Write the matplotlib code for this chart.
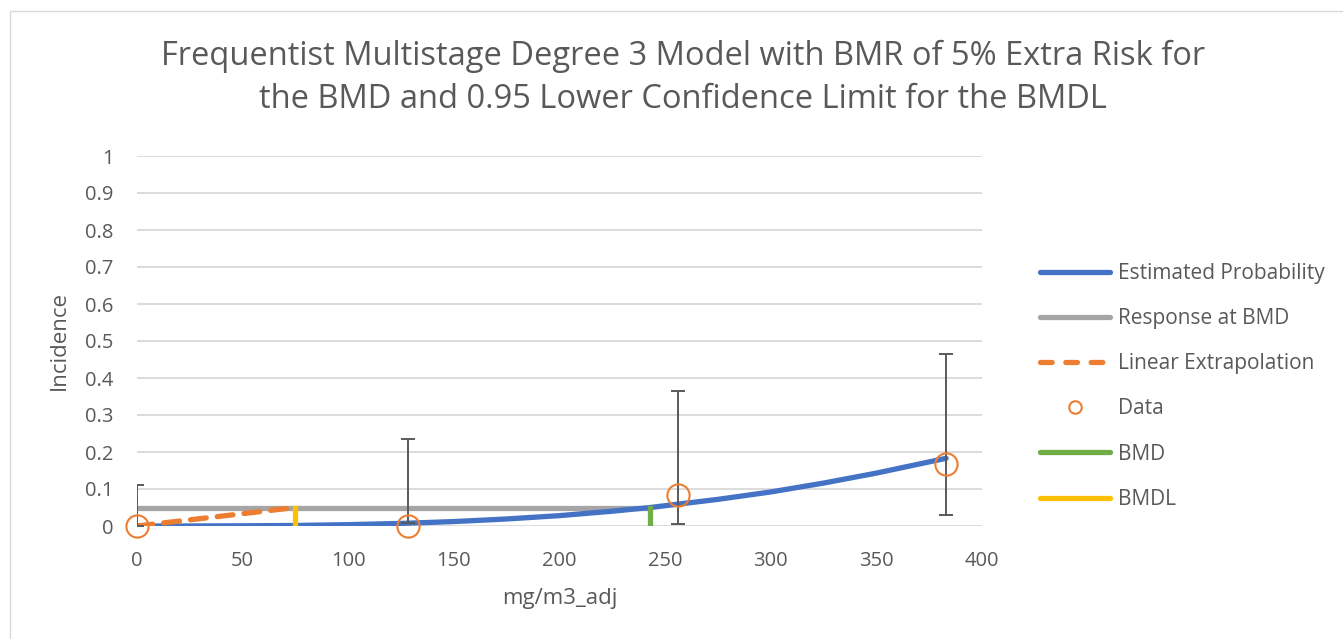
import matplotlib
matplotlib.use("Agg")
import matplotlib.pyplot as plt
from matplotlib.lines import Line2D
from matplotlib.patches import Rectangle

plt.rcParams['font.family'] = ['Open Sans', 'DejaVu Sans']

# Data
dose = [0, 128.5, 256, 383]
incidence = [0.0, 0.0, 0.083, 0.167]
ci_lower = [0.0, 0.007, 0.005, 0.030]
ci_upper = [0.111, 0.235, 0.365, 0.466]

# Estimated probability curve
curve_x = [0, 25, 50, 75, 100, 125, 150, 175, 200, 225, 243, 275, 300, 325, 350, 383]
curve_y = [0.0, 0.0001, 0.0005, 0.0015, 0.0036, 0.007, 0.012, 0.019, 0.028, 0.040,
           0.050, 0.072, 0.092, 0.116, 0.143, 0.183]

bmr = 0.05
bmd = 243
bmdl = 75

title = ("Frequentist Multistage Degree 3 Model with BMR of 5% Extra Risk for\n"
         "the BMD and 0.95 Lower Confidence Limit for the BMDL")

c_blue = '#4472C4'
c_gray = '#A5A5A5'
c_orange = '#ED7D31'
c_green = '#70AD47'
c_yellow = '#FFC000'
c_text = '#595959'
dash = (0, (3.0, 2.1))

fig = plt.figure(figsize=(13.43, 6.39), dpi=100)
fig.patches.append(Rectangle((10/1343, -0.1), 2, 1.1 - 11/639, transform=fig.transFigure,
                             fill=False, edgecolor='#D9D9D9', linewidth=1))
ax = fig.add_axes([137/1343, 1 - 526/639, (982 - 137)/1343, (526 - 156)/639])

ax.plot(curve_x, curve_y, color=c_blue, lw=3.8, solid_capstyle='round', zorder=4)
ax.plot([0, bmd], [bmr, bmr], color=c_gray, lw=3.8, zorder=3)
ax.plot([0, bmdl], [0, bmr], color=c_orange, lw=3.8, ls=dash, dash_capstyle='round', zorder=5)
ci_mid = [(l + u) / 2 for l, u in zip(ci_lower, ci_upper)]
ci_half = [(u - l) / 2 for l, u in zip(ci_lower, ci_upper)]
ax.errorbar(dose, ci_mid, yerr=ci_half,
            fmt='none', ecolor=c_text, elinewidth=1.4, capsize=5, capthick=1.4, zorder=6)
ax.plot(dose, incidence, ls='none', marker='o', ms=16, mfc='none', mec=c_orange, mew=1.5,
        zorder=7, clip_on=False)
ax.plot([bmd, bmd], [0, bmr], color=c_green, lw=3.8, zorder=5)
ax.plot([bmdl, bmdl], [0, bmr], color=c_yellow, lw=3.8, zorder=5)

ax.set_xlim(0, 400)
ax.set_ylim(0, 1)
ax.set_xticks(range(0, 401, 50))
ax.set_yticks([i / 10 for i in range(11)])
ax.set_yticklabels(['0'] + [f'{i/10:g}' for i in range(1, 11)])
ax.grid(axis='y', color='#D9D9D9', lw=1.3)
ax.set_axisbelow(True)
for s in ax.spines.values():
    s.set_visible(False)
ax.tick_params(length=0, labelsize=14.5, colors=c_text)
ax.tick_params(axis='y', pad=17)
ax.tick_params(axis='x', pad=18)
ax.set_xlabel('mg/m3_adj', fontsize=16, color=c_text, labelpad=12)
ax.set_ylabel('Incidence', fontsize=16, color=c_text, labelpad=11)

fig.text(683/1343, 1 - 78/639, title, ha='center', va='center', fontsize=23.5,
         color=c_text, linespacing=1.4)

handles = [
    Line2D([], [], color=c_blue, lw=3.8, solid_capstyle='round'),
    Line2D([], [], color=c_gray, lw=3.8, solid_capstyle='round'),
    Line2D([], [], color=c_orange, lw=3.8, ls=(0, (2.2, 2.6)), dash_capstyle='round'),
    Line2D([], [], ls='none', marker='o', ms=9, mfc='none', mec=c_orange, mew=1.5),
    Line2D([], [], color=c_green, lw=3.8, solid_capstyle='round'),
    Line2D([], [], color=c_yellow, lw=3.8, solid_capstyle='round'),
]
labels = ['Estimated Probability', 'Response at BMD', 'Linear Extrapolation', 'Data', 'BMD', 'BMDL']
leg = fig.legend(handles, labels, loc='upper left', bbox_to_anchor=(1040/1343, 1 - 263/639),
                 frameon=False, fontsize=15, handlelength=3.35, labelspacing=1.16,
                 handletextpad=0.4, labelcolor=c_text, borderaxespad=0, borderpad=0)

fig.savefig('out.png', dpi=100)
